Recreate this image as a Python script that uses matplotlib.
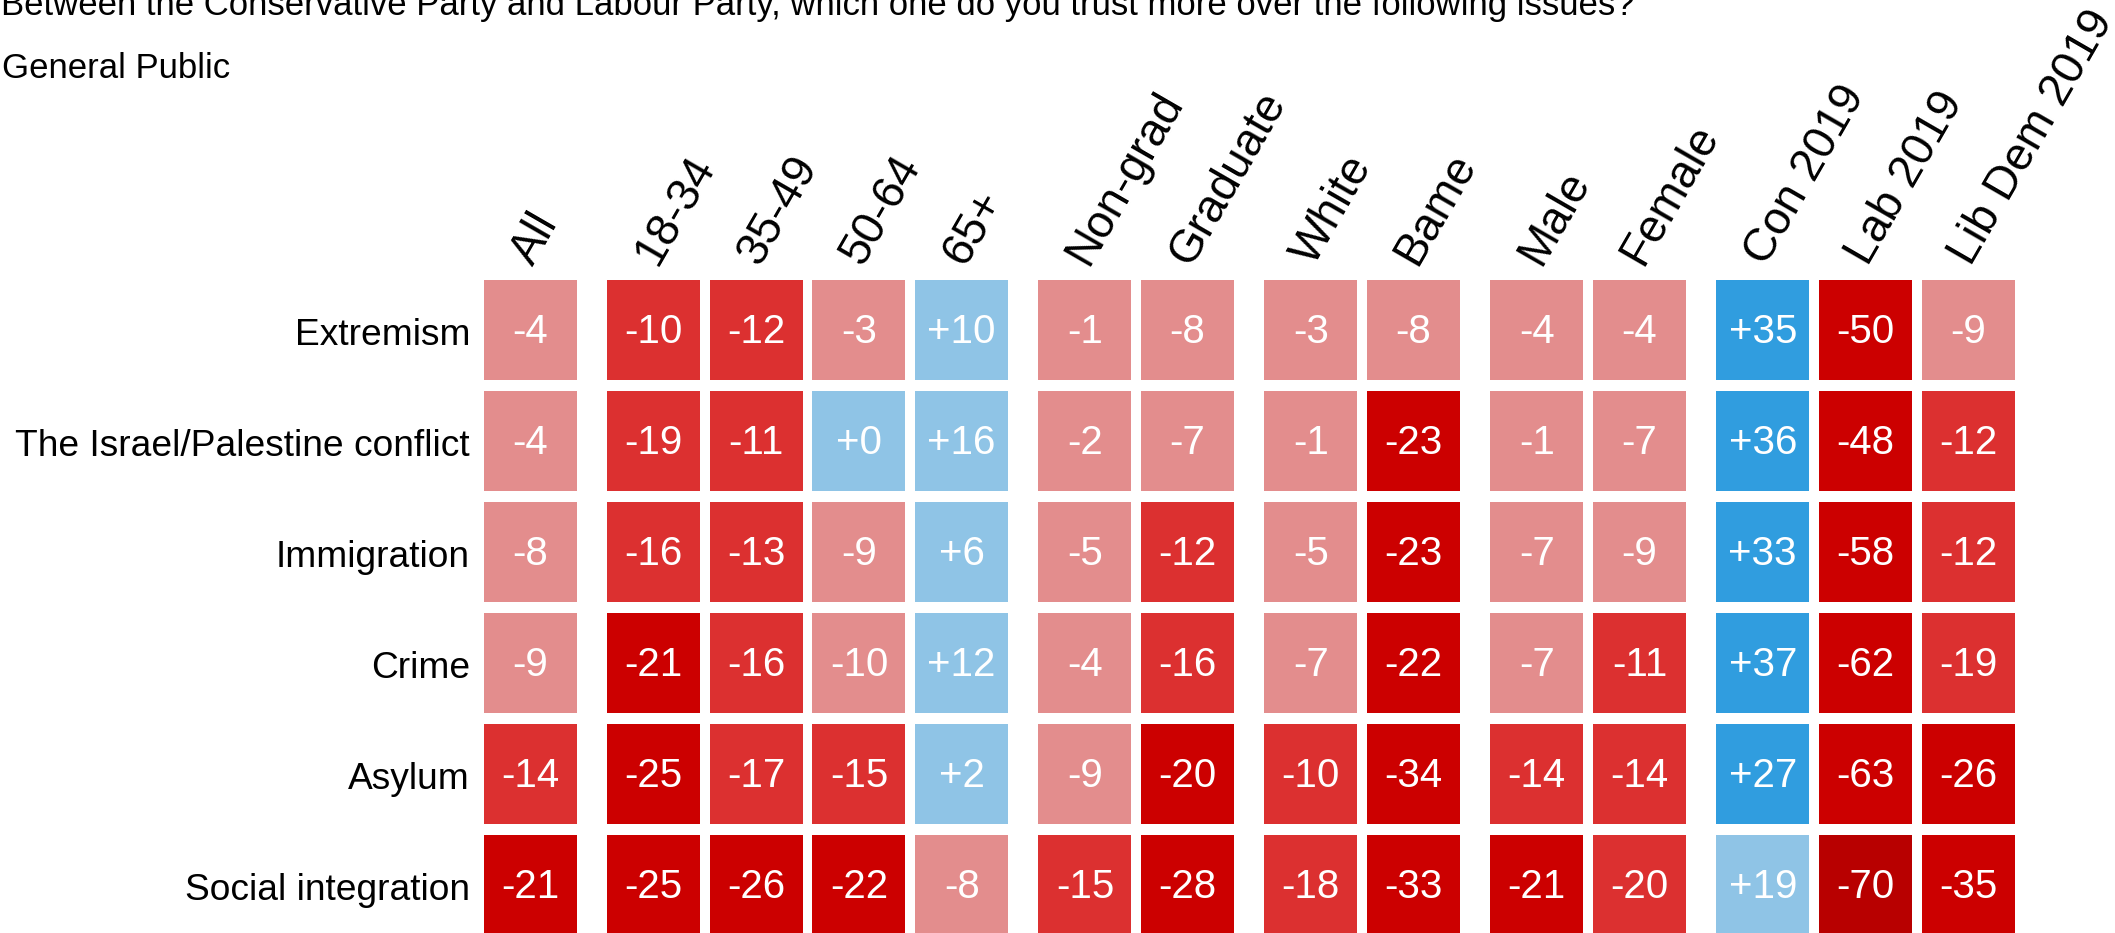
import matplotlib
matplotlib.use("Agg")
import matplotlib.pyplot as plt
from matplotlib.colors import ListedColormap, BoundaryNorm
import numpy as np

plt.rcParams['font.family'] = ['Liberation Sans', 'DejaVu Sans']

title = ("Between the Conservative Party and Labour Party, which one do you "
         "trust more over the following issues?")
subtitle = "General Public"

issues = ["Extremism", "The Israel/Palestine conflict", "Immigration",
          "Crime", "Asylum", "Social integration"]

columns = ["All", "18-34", "35-49", "50-64", "65+", "Non-grad", "Graduate",
           "White", "Bame", "Male", "Female", "Con 2019", "Lab 2019",
           "Lib Dem 2019"]
column_groups = [0, 1, 1, 1, 1, 2, 2, 3, 3, 4, 4, 5, 5, 5]

# net trust (Conservative minus Labour); unrounded where the colour bin shows it
extremism   = [-4, -10.2, -12, -3, 10, -1, -8, -3, -8, -4, -4, 35, -50, -9]
israel      = [-4, -19, -11, 0, 16, -2, -7, -1, -23, -1, -7, 36, -48, -12]
immigration = [-8, -16, -13, -9, 6, -5, -12, -5, -23, -7, -9, 33, -58, -12]
crime       = [-9, -21, -16, -9.6, 12, -4, -16, -7, -22, -7, -11, 37, -62, -19]
asylum      = [-14, -25, -17, -15, 2, -9, -20.4, -10.3, -34, -14, -14, 27, -63, -26]
social      = [-21, -25, -26, -22, -8, -15, -28, -18, -33, -21, -19.6, 19, -70, -35]
values = np.array([extremism, israel, immigration, crime, asylum, social])

bin_edges = [-200, -65, -20, -10, 0, 20, 200]
bin_colors = ["#B80000", "#CC0000", "#DC3030", "#E38D8D", "#8FC4E6", "#309DDF"]
cmap = ListedColormap(bin_colors)
norm = BoundaryNorm(bin_edges, cmap.N)

W, H = 2115, 933
fig = plt.figure(figsize=(W / 100, H / 100), dpi=100)
ax = fig.add_axes([478.95 / W, (H - 940.35) / H, 1540.5 / W, 666 / H])
ax.set_xlim(-0.5, 14.5)
ax.set_ylim(5.5, -0.5)
ax.axis("off")

xpos = np.arange(len(columns)) + 0.2 * np.array(column_groups)
cell_w, cell_h = 0.906, 0.9

for r, issue in enumerate(issues):
    row = values[r]
    ax.bar(xpos, cell_h, bottom=r - cell_h / 2, width=cell_w,
           color=cmap(norm(row)), linewidth=0)
    for x, v in zip(xpos, row):
        ax.text(x, r + 0.122, "{:+.0f}".format(v), color="white",
                fontsize=29, ha="center", va="baseline")
    ax.text(-0.587, r + 0.137, issue, color="black", fontsize=26.7,
            ha="right", va="baseline")

for x, lab in zip(xpos, columns):
    ax.text(x + 0.03, -0.57, lab, rotation=60, rotation_mode="anchor",
            ha="left", va="baseline", fontsize=33, color="black",
            clip_on=False)

fig.text(1 / W, 1 - 15 / H, title, fontsize=25, ha="left", va="baseline")
fig.text(1.5 / W, 1 - 78.3 / H, subtitle, fontsize=25, ha="left",
         va="baseline")

fig.savefig("out.png", dpi=100, facecolor="white")
